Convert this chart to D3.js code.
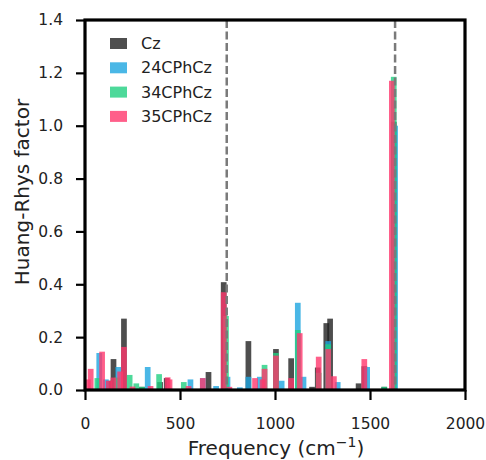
<!DOCTYPE html>
<html>
<head>
<meta charset="utf-8">
<script src="https://cdn.jsdelivr.net/npm/d3@7"></script>
<style>
  body { margin: 0; background: #fff; }
  text { font-family: "DejaVu Sans", sans-serif; fill: #222; }
</style>
</head>
<body>
<svg id="chart" width="486" height="460"></svg>
<script>
// frequencies (cm-1) and Huang-Rhys factors per molecule
const czFreq = [125, 150, 205, 300, 395, 430, 650, 730, 860, 1005, 1085, 1195, 1225, 1270, 1290, 1440, 1470, 1575, 1625];
const czHR   = [0.035, 0.117, 0.27, 0.012, 0.03, 0.045, 0.068, 0.408, 0.185, 0.155, 0.12, 0.012, 0.085, 0.253, 0.27, 0.025, 0.09, 0.012, 1.015];

const c24Freq = [75, 110, 175, 330, 555, 620, 690, 750, 815, 860, 920, 1035, 1120, 1150, 1280, 1330, 1485, 1632];
const c24HR   = [0.14, 0.04, 0.087, 0.087, 0.04, 0.045, 0.015, 0.05, 0.01, 0.05, 0.05, 0.035, 0.33, 0.05, 0.185, 0.03, 0.087, 1.0];

const c34Freq = [65, 170, 235, 270, 300, 390, 520, 742, 945, 1005, 1120, 1230, 1280, 1575, 1625];
const c34HR   = [0.045, 0.047, 0.057, 0.025, 0.012, 0.06, 0.03, 0.28, 0.095, 0.14, 0.227, 0.065, 0.173, 0.012, 1.185];

const c35Freq = [15, 30, 90, 125, 150, 185, 205, 250, 345, 435, 445, 545, 620, 730, 760, 895, 935, 945, 1005, 1085, 1130, 1230, 1280, 1310, 1470, 1615];
const c35HR   = [0.04, 0.08, 0.145, 0.035, 0.047, 0.07, 0.163, 0.013, 0.015, 0.048, 0.04, 0.015, 0.045, 0.37, 0.012, 0.045, 0.04, 0.08, 0.13, 0.045, 0.215, 0.126, 0.155, 0.052, 0.117, 1.17];

const seriesNames = ["Cz", "24CPhCz", "34CPhCz", "35CPhCz"];
const dashedFreq = [746, 1632];
const xTicks = [0, 500, 1000, 1500, 2000];
const yTicks = [0, 0.2, 0.4, 0.6, 0.8, 1.0, 1.2, 1.4];

const colors = ["#222222", "#1da5e0", "#20cf81", "#ff376d"];
const barWidth = 30; // cm-1

const series = [
  { name: seriesNames[0], freq: czFreq, hr: czHR },
  { name: seriesNames[1], freq: c24Freq, hr: c24HR },
  { name: seriesNames[2], freq: c34Freq, hr: c34HR },
  { name: seriesNames[3], freq: c35Freq, hr: c35HR },
];

const margin = { left: 85, right: 21, top: 20, bottom: 70 };
const W = 486, H = 460;
const svg = d3.select("#chart");

const x = d3.scaleLinear().domain([0, 2000]).range([margin.left, W - margin.right]);
const y = d3.scaleLinear().domain([0, 1.4]).range([H - margin.bottom, margin.top]);

svg.append("clipPath").attr("id", "plot-clip")
  .append("rect")
  .attr("x", margin.left).attr("y", margin.top)
  .attr("width", W - margin.left - margin.right)
  .attr("height", H - margin.top - margin.bottom);

const plot = svg.append("g").attr("clip-path", "url(#plot-clip)");

series.forEach((s, i) => {
  plot.append("g")
    .selectAll("rect")
    .data(s.freq.map((f, j) => ({ f, v: s.hr[j] })))
    .join("rect")
    .attr("x", d => x(d.f - barWidth / 2))
    .attr("width", x(barWidth) - x(0))
    .attr("y", d => y(d.v))
    .attr("height", d => y(0) - y(d.v))
    .attr("fill", colors[i])
    .attr("fill-opacity", 0.8);
});

// dashed reference lines
plot.selectAll("line.ref")
  .data(dashedFreq)
  .join("line")
  .attr("class", "ref")
  .attr("x1", d => x(d)).attr("x2", d => x(d))
  .attr("y1", y(1.4)).attr("y2", y(0))
  .attr("stroke", "#7a7a7a")
  .attr("stroke-width", 2.5)
  .attr("stroke-dasharray", "8,3.5");

// axes
const xAxis = svg.append("g")
  .attr("transform", `translate(0,${y(0)})`)
  .call(d3.axisBottom(x).tickValues(xTicks).tickSize(10).tickPadding(18).tickFormat(d3.format("d")));
const yAxis = svg.append("g")
  .attr("transform", `translate(${x(0)},0)`)
  .call(d3.axisLeft(y).tickValues(yTicks).tickSize(9).tickPadding(13).tickFormat(d3.format(".1f")));

[xAxis, yAxis].forEach(a => {
  a.select(".domain").remove();
  a.selectAll(".tick line").attr("stroke", "#000").attr("stroke-width", 2.2);
  a.selectAll(".tick text").attr("font-size", 15.5).attr("fill", "#222")
    .style("font-family", "DejaVu Sans, sans-serif");
});

// frame
svg.append("rect")
  .attr("x", x(0)).attr("y", y(1.4))
  .attr("width", x(2000) - x(0)).attr("height", y(0) - y(1.4))
  .attr("fill", "none").attr("stroke", "#000").attr("stroke-width", 3.2);

// axis titles
const xt = svg.append("text")
  .attr("x", (x(0) + x(2000)) / 2 + 1).attr("y", 455)
  .attr("text-anchor", "middle").attr("font-size", 20);
xt.append("tspan").text("Frequency (cm");
xt.append("tspan").attr("dy", -8).attr("font-size", 14).text("\u22121");
xt.append("tspan").attr("dy", 8).text(")");

svg.append("text")
  .attr("transform", `translate(29,${(y(0) + y(1.4)) / 2 - 13}) rotate(-90)`)
  .attr("text-anchor", "middle").attr("font-size", 20)
  .text("Huang-Rhys factor");

// legend
const legend = svg.append("g").attr("transform", "translate(110,38)");
const items = legend.selectAll("g")
  .data(seriesNames)
  .join("g")
  .attr("transform", (d, i) => `translate(0,${i * 24.3})`);
items.append("rect")
  .attr("width", 17).attr("height", 11)
  .attr("fill", (d, i) => colors[i]).attr("fill-opacity", 0.8);
items.append("text")
  .attr("x", 31).attr("y", 11)
  .attr("font-size", 16)
  .text(d => d);
</script>
</body>
</html>
